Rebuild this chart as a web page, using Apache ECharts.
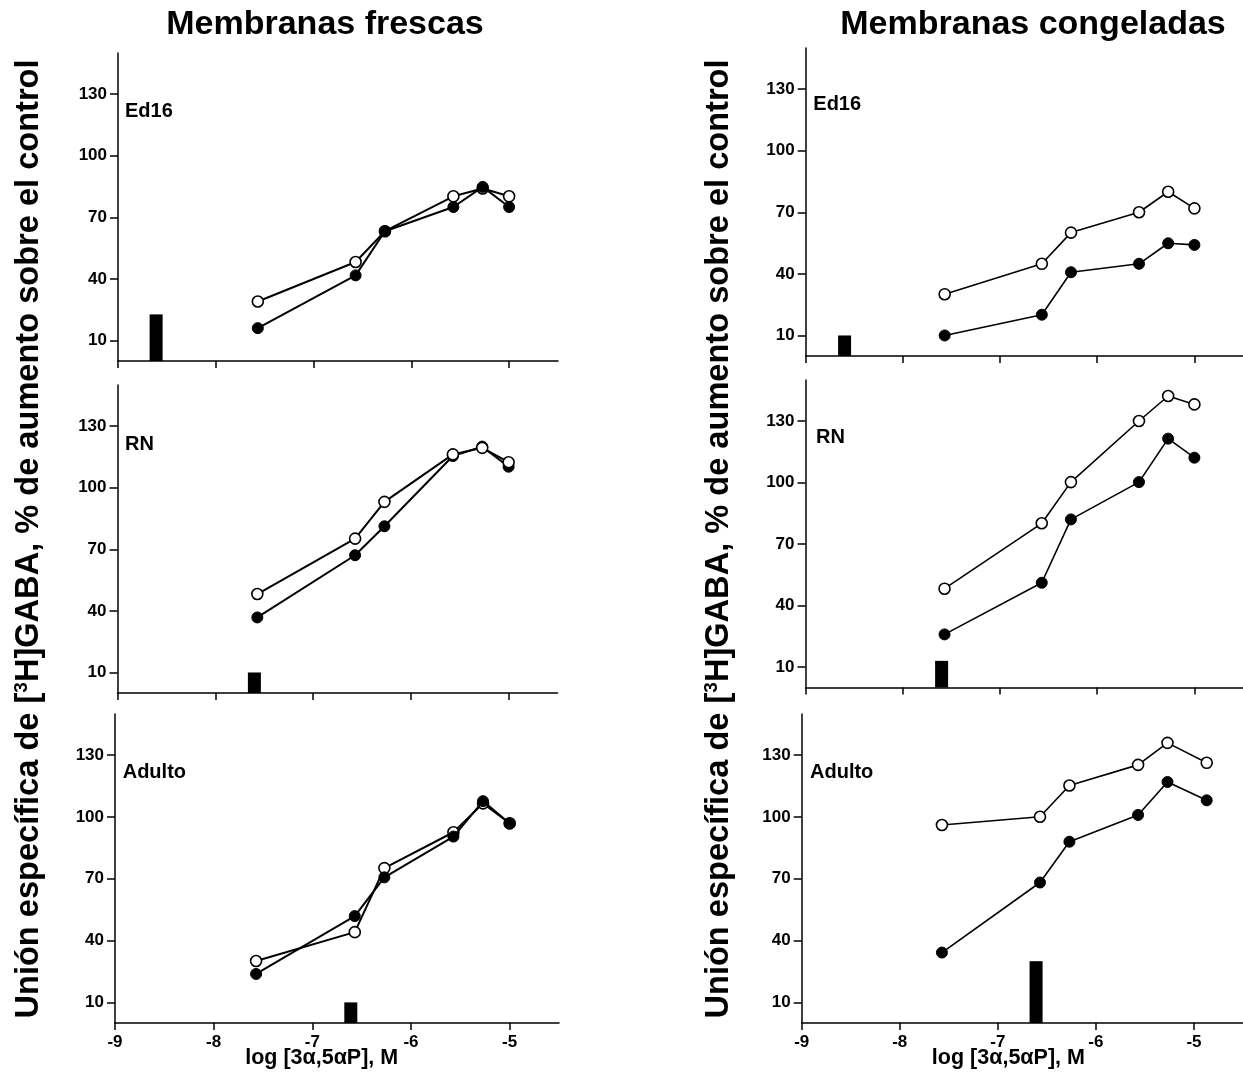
<!DOCTYPE html>
<html>
<head>
<meta charset="utf-8">
<script src="https://cdn.jsdelivr.net/npm/echarts@6/dist/echarts.min.js"></script>
<style>html,body{margin:0;padding:0;background:#fff}#c{width:1243px;height:1072px}</style>
</head>
<body>
<div id="c"></div>
<script>
// ---- data ----
const xTicks = [-9, -8, -7, -6, -5];
const yTicks = [10, 40, 70, 100, 130];
const conc = [-7.57, -6.57, -6.27, -5.57, -5.27, -5.0];
const concFrozenAdult = [-7.57, -6.57, -6.27, -5.57, -5.27, -4.87];

const freshEd16Open   = [29.0, 48.2, 63.2, 80.2, 84.0, 80.2];
const freshEd16Filled = [16.0, 41.7, 63.2, 75.0, 84.8, 75.0];
const freshRNOpen     = [48.2, 75.2, 93.1, 116.2, 119.4, 112.4];
const freshRNFilled   = [36.8, 67.1, 81.2, 115.4, 120.0, 110.2];
const freshAdultOpen  = [30.1, 44.1, 75.2, 92.6, 106.6, 97.0];
const freshAdultFilled= [23.8, 51.9, 70.7, 90.5, 107.7, 96.8];

const frozenEd16Open   = [30.1, 44.9, 60.1, 70.0, 80.0, 71.9];
const frozenEd16Filled = [10.0, 20.1, 40.8, 44.9, 54.9, 54.1];
const frozenRNOpen     = [48.2, 80.1, 100.2, 130.0, 142.2, 138.1];
const frozenRNFilled   = [25.9, 51.1, 82.0, 100.2, 121.4, 112.1];
const frozenAdultOpen  = [96.1, 100.1, 115.3, 125.3, 136.0, 126.3];
const frozenAdultFilled= [34.2, 68.2, 88.0, 101.0, 117.0, 108.1];

const freshBarX = [-8.61, -7.60, -6.61];
const freshBarH = [22.7, 10, 10];
const frozenBarX = [-8.60, -7.60, -6.61];
const frozenBarH = [10, 13, 30];

const panelLabels = ['Ed16', 'RN', 'Adulto'];
const titles = ['Membranas frescas', 'Membranas congeladas'];
const xName = 'log [3\u03B1,5\u03B1P], M';

// ---- layout ----
const FF = '"Liberation Sans", Arial, sans-serif';
const grids = [
  {left: 118, top: 53, width: 440, height: 308},
  {left: 117.5, top: 385, width: 440, height: 308},
  {left: 115, top: 714, width: 444, height: 309},
  {left: 805.7, top: 48, width: 440, height: 308},
  {left: 805.5, top: 380, width: 440, height: 307.5},
  {left: 801.7, top: 714, width: 444, height: 309}
];
const panels = [
  {x: conc, open: freshEd16Open, filled: freshEd16Filled, bx: freshBarX[0], bh: freshBarH[0], lw: 2, openTop: false},
  {x: conc, open: freshRNOpen, filled: freshRNFilled, bx: freshBarX[1], bh: freshBarH[1], lw: 2, openTop: true},
  {x: conc, open: freshAdultOpen, filled: freshAdultFilled, bx: freshBarX[2], bh: freshBarH[2], lw: 2, openTop: false},
  {x: conc, open: frozenEd16Open, filled: frozenEd16Filled, bx: frozenBarX[0], bh: frozenBarH[0], lw: 1.6, openTop: false},
  {x: conc, open: frozenRNOpen, filled: frozenRNFilled, bx: frozenBarX[1], bh: frozenBarH[1], lw: 1.6, openTop: false},
  {x: concFrozenAdult, open: frozenAdultOpen, filled: frozenAdultFilled, bx: frozenBarX[2], bh: frozenBarH[2], lw: 1.6, openTop: false}
];
const labelPos = [[125, 111], [125, 444.3], [122.7, 772.7], [813.3, 104], [816, 437.7], [810, 772.7]];

const xAxes = [], yAxes = [], series = [];
panels.forEach((p, i) => {
  const bottom = (i % 3) === 2;
  xAxes.push({
    type: 'value', gridIndex: i, min: -9, max: -4.5,
    axisLine: {show: true, onZero: false, lineStyle: {color: '#000', width: 1.5}},
    axisTick: {show: true, length: 7, lineStyle: {color: '#000', width: 1.5}, customValues: xTicks},
    axisLabel: {show: bottom, customValues: xTicks, margin: 11, color: '#000', fontSize: 17, fontWeight: 'bold', fontFamily: FF},
    splitLine: {show: false}
  });
  yAxes.push({
    type: 'value', gridIndex: i, min: 0, max: 150,
    axisLine: {show: true, onZero: false, lineStyle: {color: '#000', width: 1.5}},
    axisTick: {show: true, length: 8, lineStyle: {color: '#000', width: 1.5}, customValues: yTicks},
    axisLabel: {customValues: yTicks, margin: 11, color: '#000', fontSize: 17, fontWeight: 'bold', fontFamily: FF},
    splitLine: {show: false}
  });
  series.push({
    type: 'bar', xAxisIndex: i, yAxisIndex: i, barWidth: 13,
    data: [[p.bx, p.bh]], itemStyle: {color: '#000'}, z: 1
  });
  const openS = {
    type: 'line', xAxisIndex: i, yAxisIndex: i,
    data: p.x.map((v, k) => [v, p.open[k]]),
    symbol: 'circle', symbolSize: 11, showSymbol: true,
    lineStyle: {color: '#000', width: p.lw},
    itemStyle: {color: '#fff', borderColor: '#000', borderWidth: 1.6},
    z: p.openTop ? 4 : 2
  };
  const filledS = {
    type: 'line', xAxisIndex: i, yAxisIndex: i,
    data: p.x.map((v, k) => [v, p.filled[k]]),
    symbol: 'circle', symbolSize: 11, showSymbol: true,
    lineStyle: {color: '#000', width: p.lw},
    itemStyle: {color: '#000', borderColor: '#000', borderWidth: 1},
    z: p.openTop ? 2 : 4
  };
  series.push(openS, filledS);
});

const graphic = [];
graphic.push({type: 'text', x: 325, y: 24.6, style: {text: titles[0], font: 'bold 34px ' + FF, textAlign: 'center', textVerticalAlign: 'middle', fill: '#000'}});
graphic.push({type: 'text', x: 1033, y: 24.6, style: {text: titles[1], font: 'bold 34px ' + FF, textAlign: 'center', textVerticalAlign: 'middle', fill: '#000'}});
labelPos.forEach((lp, i) => {
  graphic.push({type: 'text', x: lp[0], y: lp[1], style: {text: panelLabels[i % 3], font: 'bold 20px ' + FF, textAlign: 'left', textVerticalAlign: 'middle', fill: '#000'}});
});
[[321.7, 1058], [1008.4, 1058]].forEach(pt => {
  graphic.push({type: 'text', x: pt[0], y: pt[1], style: {text: xName, font: 'bold 21.5px ' + FF, textAlign: 'center', textVerticalAlign: 'middle', fill: '#000'}});
});
[[28.6, 539], [718.6, 539]].forEach(pt => {
  graphic.push({
    type: 'text', x: pt[0], y: pt[1], rotation: Math.PI / 2,
    style: {
      text: '{a|Unión específica de [}{s|3}{a|H]GABA, % de aumento sobre el control}',
      textAlign: 'center', textVerticalAlign: 'middle', fill: '#000',
      rich: {
        a: {fontSize: 32.6, fontWeight: 'bold', fontFamily: FF, fill: '#000', color: '#000'},
        s: {fontSize: 19, fontWeight: 'bold', fontFamily: FF, fill: '#000', color: '#000', verticalAlign: 'top'}
      }
    }
  });
});

const chart = echarts.init(document.getElementById('c'), null, {renderer: 'canvas'});
chart.setOption({
  animation: false,
  backgroundColor: '#fff',
  grid: grids.map(g => Object.assign({containLabel: false}, g)),
  xAxis: xAxes,
  yAxis: yAxes,
  series: series,
  graphic: graphic
});
</script>
</body>
</html>
